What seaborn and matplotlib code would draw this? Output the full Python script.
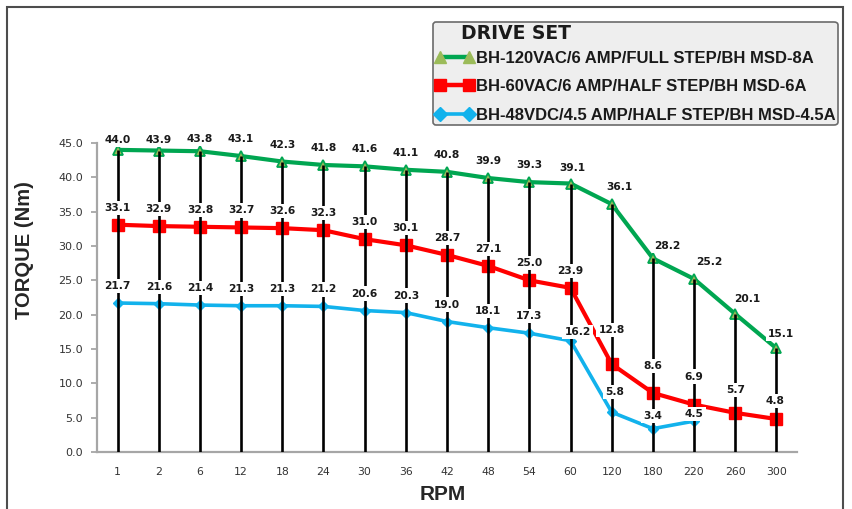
import matplotlib
matplotlib.use("Agg")
import matplotlib.pyplot as plt
from matplotlib.lines import Line2D
from matplotlib.patches import Rectangle
import seaborn as sns
import numpy as np
import pandas as pd

# ---------------- data ----------------
rpm = ["1", "2", "6", "12", "18", "24", "30", "36", "42", "48", "54", "60",
       "120", "180", "220", "260", "300"]
torque_120vac = [44.0, 43.9, 43.8, 43.1, 42.3, 41.8, 41.6, 41.1, 40.8, 39.9,
                 39.3, 39.1, 36.1, 28.2, 25.2, 20.1, 15.1]
torque_60vac = [33.1, 32.9, 32.8, 32.7, 32.6, 32.3, 31.0, 30.1, 28.7, 27.1,
                25.0, 23.9, 12.8, 8.6, 6.9, 5.7, 4.8]
torque_48vdc = [21.7, 21.6, 21.4, 21.3, 21.3, 21.2, 20.6, 20.3, 19.0, 18.1,
                17.3, 16.2, 5.8, 3.4, 4.5, np.nan, np.nan]
series_names = ["BH-120VAC/6 AMP/FULL STEP/BH MSD-8A",
                "BH-60VAC/6 AMP/HALF STEP/BH MSD-6A",
                "BH-48VDC/4.5 AMP/HALF STEP/BH MSD-4.5A"]
legend_title = "DRIVE SET"
y_ticks = [0.0, 5.0, 10.0, 15.0, 20.0, 25.0, 30.0, 35.0, 40.0, 45.0]
x_label = "RPM"
y_label = "TORQUE (Nm)"

# label placement (pixel offsets from each point: dx, dy)
off_120 = [(0, 10), (0, 11), (0, 12), (0, 17), (0, 17), (0, 17), (0, 17), (0, 17),
           (0, 17), (0, 17), (0, 17), (2, 16), (8, 17), (14, 12), (15, 17), (12, 15), (5, 14)]
off_60 = [(0, 17)] * 12 + [(0, 34), (0, 27), (0, 28), (0, 23), (-1, 18)]
off_48 = [(0, 17)] * 11 + [(7, 9), (3, 20), (0, 13), (0, 7), (0, 0), (0, 0)]

# ---------------- style ----------------
sns.set_style("white")
plt.rcParams["font.family"] = ["DejaVu Sans"]

GREEN = "#00a651"
OLIVE = "#9bbb59"
RED = "#ff0000"
BLUE = "#12b2ec"

fig = plt.figure(figsize=(8.52, 5.09), dpi=100)
ax = fig.add_axes([97 / 852, 1 - 452 / 509, 700 / 852, 309 / 509])

df = pd.DataFrame({"rpm": rpm, "a": torque_120vac, "b": torque_60vac, "c": torque_48vdc})

sns.pointplot(data=df, x="rpm", y="a", order=rpm, errorbar=None, color=GREEN,
              marker="^", markersize=7.5, markerfacecolor=OLIVE, markeredgecolor=GREEN,
              markeredgewidth=1.3, linewidth=3.0, zorder=3, ax=ax)
sns.pointplot(data=df, x="rpm", y="b", order=rpm, errorbar=None, color=RED,
              marker="s", markersize=8, markerfacecolor=RED, markeredgecolor=RED,
              markeredgewidth=1, linewidth=3.0, zorder=3, ax=ax)
sns.pointplot(data=df.dropna(subset=["c"]), x="rpm", y="c", order=rpm, errorbar=None, color=BLUE,
              marker="D", markersize=5.5, markerfacecolor=BLUE, markeredgecolor=BLUE,
              markeredgewidth=1, linewidth=2.6, zorder=3, ax=ax)

# drop lines from 0 to the top series
xpos = np.arange(len(rpm))
ax.vlines(xpos, 0, torque_120vac, colors="black", linewidth=1.9, zorder=4)

# data labels
for vals, offs in ((torque_120vac, off_120), (torque_60vac, off_60), (torque_48vdc, off_48)):
    for i, (v, (dx, dy)) in enumerate(zip(vals, offs)):
        if np.isnan(v):
            continue
        ax.annotate(f"{v:.1f}", (i, v), xytext=(dx, dy), textcoords="offset pixels",
                    ha="center", va="center", fontsize=7.7, fontweight="bold",
                    color="#1a1a1a", zorder=6,
                    bbox=dict(boxstyle="square,pad=0.2", fc="white", ec="none"))

ax.set_xlim(-0.5, len(rpm) - 0.5)
ax.set_ylim(0, 45)
ax.set_yticks(y_ticks)
ax.set_yticklabels([f"{t:.1f}" for t in y_ticks])
ax.set_xticks(xpos)
ax.set_xticklabels(rpm)

for s in ("top", "right"):
    ax.spines[s].set_visible(False)
for s in ("left", "bottom"):
    ax.spines[s].set_color("#a6a6a6")
    ax.spines[s].set_linewidth(1.6)

ax.tick_params(axis="y", which="major", left=True, length=4, width=1.3, color="#a6a6a6",
               pad=6, labelsize=8, labelcolor="#333333")
ax.tick_params(axis="x", which="major", bottom=False, length=0, pad=11,
               labelsize=7.8, labelcolor="#333333")

ax.set_xlabel(x_label, fontsize=15, fontweight="bold", family="Liberation Sans", color="#262626")
ax.set_ylabel(y_label, fontsize=14.5, fontweight="bold", family="Liberation Sans", color="#262626")
ax.xaxis.label.set_va("center")
ax.yaxis.label.set_va("center")
ax.xaxis.set_label_coords((443 - 97) / 700, (452 - 494) / 309)
ax.yaxis.set_label_coords((25 - 97) / 700, (452 - 250) / 309)

# legend
handles = [
    Line2D([], [], color=GREEN, lw=3.2, marker="^", ms=8, mfc=OLIVE, mec=OLIVE),
    Line2D([], [], color=RED, lw=3.2, marker="s", ms=8, mfc=RED, mec=RED),
    Line2D([], [], color=BLUE, lw=2.6, marker="D", ms=7, mfc=BLUE, mec=BLUE),
]
leg = fig.legend(handles, series_names, title="    " + legend_title,
                 loc="upper left", bbox_to_anchor=(433 / 852, 1 - 22 / 509),
                 numpoints=2, handlelength=2.35, handletextpad=0.12,
                 borderpad=0.12, labelspacing=0.82, borderaxespad=0,
                 frameon=True, fancybox=True, framealpha=1,
                 facecolor="#eeeeee", edgecolor="#6b6b6b", alignment="left",
                 prop={"family": "Liberation Sans", "weight": "bold", "size": 12},
                 title_fontproperties={"family": "DejaVu Sans", "weight": "bold", "size": 13.5})
leg._legend_box.sep = 5.5  # tighter gap between title and entries (points)
leg.get_frame().set_linewidth(1.2)
for t in leg.get_texts():
    t.set_color("#1a1a1a")
leg.get_title().set_color("#1a1a1a")

# figure border
fig.add_artist(Rectangle((7 / 852, -0.05), (843 - 7) / 852, 1 - 7 / 509 + 0.05,
                         transform=fig.transFigure, fill=False, ec="#4d4d4d", lw=1.5))

fig.savefig("out.png", dpi=100)
